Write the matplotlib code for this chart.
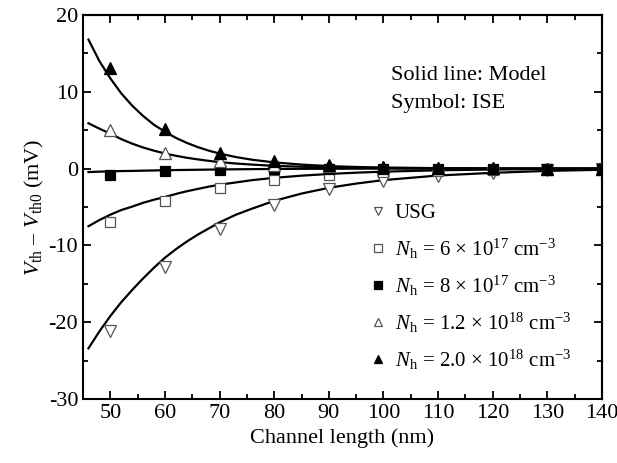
import numpy as np
import matplotlib
matplotlib.use("Agg")
import matplotlib.pyplot as plt
from matplotlib.ticker import MultipleLocator

plt.rcParams['font.family'] = ['Liberation Serif', 'DejaVu Serif']
plt.rcParams['mathtext.fontset'] = 'custom'
plt.rcParams['mathtext.rm'] = 'Liberation Serif'
plt.rcParams['mathtext.it'] = 'Liberation Serif:italic'
plt.rcParams['mathtext.bf'] = 'Liberation Serif:bold'
plt.rcParams['axes.unicode_minus'] = False

# ISE symbols
x_sym = [50, 60, 70, 80, 90, 100, 110, 120, 130, 140]
usg_sym = [-21.2, -12.8, -7.8, -4.8, -2.7, -1.65, -0.9, -0.6, -0.2, 0.0]
n6e17_sym = [-7.0, -4.2, -2.5, -1.5, -0.8, -0.5, -0.3, -0.2, -0.1, 0.0]
n8e17_sym = [-0.8, -0.3, -0.2, -0.1, 0.0, 0.0, 0.0, 0.0, 0.0, 0.0]
n12e18_sym = [5.0, 2.0, 0.95, 0.5, 0.3, 0.15, 0.1, 0.05, 0.0, 0.0]
n2e18_sym = [13.1, 5.1, 2.0, 0.95, 0.45, 0.25, 0.1, 0.05, 0.0, 0.0]

# Model curves
x_mod = [46, 48, 50, 52, 54, 56, 58, 60, 62, 64, 66, 68, 70, 73, 76, 80, 85, 90, 95,
         100, 110, 120, 130, 140]
usg_mod = [-23.4, -21.2, -19.2, -17.4, -15.8, -14.3, -12.9, -11.6, -10.5, -9.5, -8.6, -7.8,
           -7.0, -6.0, -5.2, -4.2, -3.25, -2.5, -1.95, -1.5, -0.9, -0.55, -0.3, -0.15]
n6e17_mod = [-7.5, -6.7, -6.0, -5.4, -4.95, -4.45, -4.05, -3.7, -3.3, -2.95, -2.65, -2.35,
             -2.1, -1.8, -1.5, -1.2, -0.92, -0.7, -0.53, -0.4, -0.22, -0.12, -0.05, 0.0]
n8e17_mod = [-0.45, -0.4, -0.35, -0.32, -0.3, -0.27, -0.24, -0.21, -0.19, -0.17, -0.15, -0.13,
             -0.11, -0.09, -0.07, -0.05, -0.03, -0.02, -0.01, 0.0, 0.0, 0.0, 0.0, 0.0]
n12e18_mod = [5.9, 5.2, 4.55, 3.84, 3.25, 2.75, 2.33, 1.97, 1.67, 1.41, 1.2, 1.01,
              0.85, 0.66, 0.52, 0.36, 0.24, 0.16, 0.1, 0.07, 0.03, 0.01, 0.0, 0.0]
n2e18_mod = [16.8, 14.0, 11.75, 9.8, 8.2, 6.85, 5.7, 4.8, 4.0, 3.35, 2.8, 2.34,
             1.96, 1.5, 1.15, 0.81, 0.52, 0.33, 0.21, 0.14, 0.06, 0.02, 0.01, 0.0]

labels = ["USG",
          r"$N_\mathrm{h}$ = 6 $\times$ 10$^{17}$ cm$^{\mathrm{-}3}$",
          r"$N_\mathrm{h}$ = 8 $\times$ 10$^{17}$ cm$^{\mathrm{-}3}$",
          r"$N_\mathrm{h}$ = 1.2 $\times$ 10$^{18}$ cm$^{\mathrm{-}3}$",
          r"$N_\mathrm{h}$ = 2.0 $\times$ 10$^{18}$ cm$^{\mathrm{-}3}$"]

fig = plt.figure(figsize=(6.17, 4.63), dpi=100)
ax = fig.add_axes([83/617, 1 - 399/463, (602 - 83)/617, (399 - 15)/463])

for ymod in [usg_mod, n6e17_mod, n8e17_mod, n12e18_mod, n2e18_mod]:
    ax.plot(x_mod, ymod, color='black', lw=1.6, zorder=2, solid_joinstyle='round')

styles = [
    dict(marker='v', mfc='white', mec='#555555', ms=8.5, mew=0.9),
    dict(marker='s', mfc='white', mec='#555555', ms=7, mew=0.9),
    dict(marker='s', mfc='black', mec='black', ms=7, mew=0.9),
    dict(marker='^', mfc='white', mec='#555555', ms=8.5, mew=0.9),
    dict(marker='^', mfc='black', mec='black', ms=8.5, mew=0.9),
]
handles = []
for ysym, st, lab in zip([usg_sym, n6e17_sym, n8e17_sym, n12e18_sym, n2e18_sym], styles, labels):
    h, = ax.plot(x_sym, ysym, ls='none', zorder=3, label=lab, **st)
    handles.append(h)

ax.set_xlim(45, 140)
ax.set_ylim(-30, 20)
ax.set_xticks([50, 60, 70, 80, 90, 100, 110, 120, 130, 140])
ax.xaxis.set_minor_locator(MultipleLocator(5))
ax.yaxis.set_major_locator(MultipleLocator(10))
ax.yaxis.set_minor_locator(MultipleLocator(5))
ax.tick_params(which='both', direction='in', top=False, right=False, width=1.3,
               labelsize=16)
ax.tick_params(which='major', length=6)
ax.tick_params(which='minor', length=3.5)

ax2 = ax.secondary_xaxis('top')
ax2.xaxis.set_major_locator(MultipleLocator(10))
ax2.xaxis.set_minor_locator(MultipleLocator(5))
ax2.tick_params(which='both', direction='in', labeltop=False, width=1.3)
ax2.tick_params(which='major', length=6)
ax2.tick_params(which='minor', length=3.5)
ay2 = ax.secondary_yaxis('right')
ay2.yaxis.set_major_locator(MultipleLocator(10))
ay2.yaxis.set_minor_locator(MultipleLocator(5))
ay2.tick_params(which='both', direction='in', labelright=False, width=1.3)
ay2.tick_params(which='major', length=6)
ay2.tick_params(which='minor', length=3.5)
ax2.spines['top'].set_linewidth(1.5)
ay2.spines['right'].set_linewidth(1.5)

for sp in ax.spines.values():
    sp.set_linewidth(1.5)

ax.set_xlabel("Channel length (nm)", fontsize=16, labelpad=4)
ax.set_ylabel("$V_\\mathrm{th}$ \u2013 $V_\\mathrm{th0}$ (mV)", fontsize=16, labelpad=2)

ax.text(0.594, 0.83, "Solid line: Model", transform=ax.transAxes, fontsize=16)
ax.text(0.594, 0.757, "Symbol: ISE", transform=ax.transAxes, fontsize=16)

leg = ax.legend(handles=handles, loc='upper left', bbox_to_anchor=(0.54, 0.53),
                frameon=False, fontsize=15, handlelength=0.6, handletextpad=0.5,
                labelspacing=0.62, markerscale=0.75, borderaxespad=0)

fig.savefig("out.png", dpi=100)
